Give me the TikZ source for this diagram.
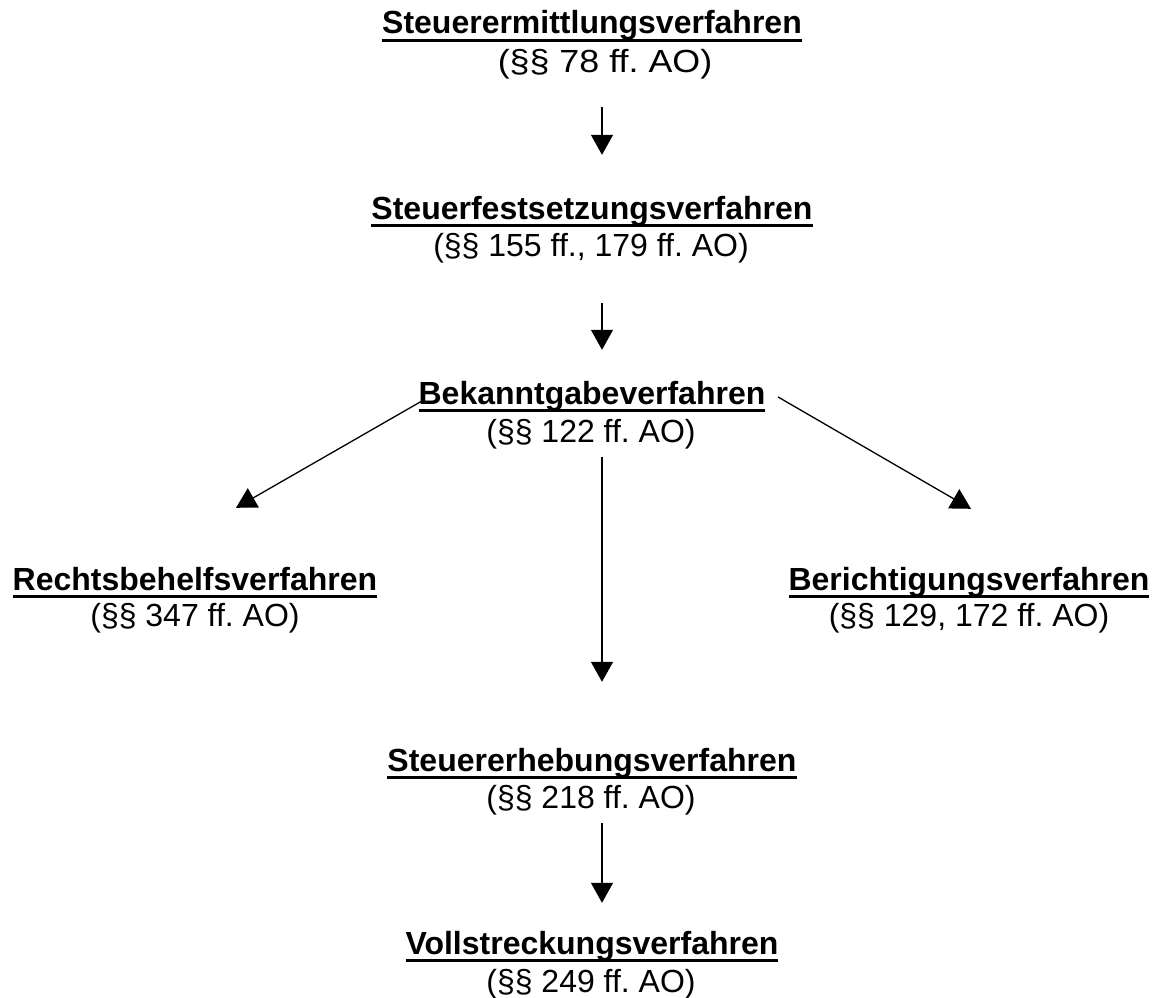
\documentclass[tikz,border=0pt]{standalone}
\usepackage{fontspec}
\setmainfont[Ligatures=NoCommon]{Liberation Sans}
\usetikzlibrary{arrows.meta}
\frenchspacing
\newcommand{\myul}[1]{\setbox0\hbox{#1}\rlap{\rule[-7.6pt]{\wd0}{2.6pt}}\box0}
\tikzset{
  ttl/.style={anchor=base, inner sep=0pt, font=\fontsize{32}{35}\selectfont\bfseries, text height=24pt, text depth=8pt},
  sub/.style={anchor=base, inner sep=0pt, font=\fontsize{32}{35}\selectfont, text height=24pt, text depth=8pt},
  arr/.style={line width=1.3pt, -{Triangle[length=20pt,width=22pt]}}
}
\begin{document}
\begin{tikzpicture}[x=1pt,y=-1pt]
\useasboundingbox (0,0) rectangle (1154,998);
\node[ttl] (t1) at (592,34) {\myul{Steuerermittlungsverfahren}};
\node[sub] (s1) at (605,73) {\scalebox{1.12}[1]{(§§ 78 ff. AO)}};
\node[ttl] (t2) at (592,219) {\myul{Steuerfestsetzungsverfahren}};
\node[sub] (s2) at (591,256) {(§§ 155 ff., 179 ff. AO)};
\node[ttl] (t3) at (592,404) {\myul{Bekanntgabeverfahren}};
\node[sub] (s3) at (591,442) {(§§ 122 ff. AO)};
\node[ttl] (t4) at (195,590) {\myul{Rechtsbehelfsverfahren}};
\node[sub] (s4) at (195,626) {(§§ 347 ff. AO)};
\node[ttl] (t6) at (969,590) {\myul{Berichtigungsverfahren}};
\node[sub] (s6) at (969,626) {(§§ 129, 172 ff. AO)};
\node[ttl] (t5) at (592,771) {\myul{Steuererhebungsverfahren}};
\node[sub] (s5) at (591,808) {(§§ 218 ff. AO)};
\node[ttl] (t7) at (592,954) {\myul{Vollstreckungsverfahren}};
\node[sub] (s7) at (591,992) {(§§ 249 ff. AO)};
\draw[arr] ([xshift=-3pt,yshift=-26pt]s1.south) -- ([xshift=10pt,yshift=40pt]t2.north);
\draw[arr] ([xshift=11pt,yshift=-39pt]s2.south) -- ([xshift=10pt,yshift=30pt]t3.north);
\draw[arr] ([xshift=11pt,yshift=-7pt]s3.south) -- ([xshift=10pt,yshift=65pt]t5.north);
\draw[arr] ([xshift=11pt,yshift=-7pt]s5.south) -- ([xshift=10pt,yshift=27pt]t7.north);
\draw[arr] ([xshift=3.5pt,yshift=3pt]t3.base west) -- ([xshift=41pt,yshift=58pt]t4.north);
\draw[arr] ([xshift=12.5pt,yshift=7pt]t3.base east) -- ([xshift=2pt,yshift=57pt]t6.north);
\end{tikzpicture}
\end{document}
